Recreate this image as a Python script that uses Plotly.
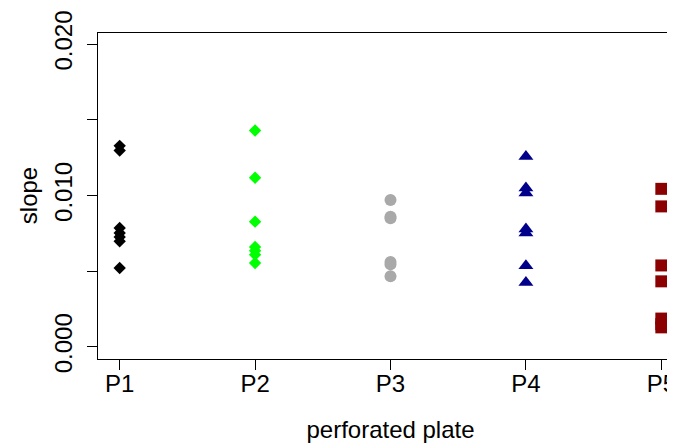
import plotly.graph_objects as go

categories = ["P1", "P2", "P3", "P4", "P5"]
p1 = [0.01328, 0.01297, 0.00785, 0.00752, 0.00726, 0.00697, 0.00521]
p2 = [0.01429, 0.01117, 0.00827, 0.00660, 0.00635, 0.00609, 0.00554]
p3 = [0.00970, 0.00860, 0.00850, 0.00560, 0.00545, 0.00466]
p4 = [0.01257, 0.01049, 0.01016, 0.00778, 0.00752, 0.00536, 0.00426]
p5 = [0.01044, 0.00928, 0.00538, 0.00433, 0.00187, 0.00150, 0.00129]
y_tickvals = [0.000, 0.005, 0.010, 0.015, 0.020]
y_ticktext = ["0.000", "", "0.010", "", "0.020"]

series = [p1, p2, p3, p4, p5]
colors = ["#000000", "#00FF00", "#A9A9A9", "#00008B", "#8B0000"]
symbols = ["diamond", "diamond", "circle", "triangle-up", "square"]
sizes = [9.5, 9.5, 12, 13, 12]

FONT = "Liberation Sans, Arial, Helvetica, sans-serif"

fig = go.Figure()
for i, vals in enumerate(series):
    fig.add_trace(go.Scatter(
        x=[i + 1] * len(vals), y=vals, mode="markers",
        marker=dict(symbol=symbols[i], color=colors[i], size=sizes[i], line=dict(width=0)),
        showlegend=False, cliponaxis=False,
    ))

PLOT_H = 448 - 24 - 97

# page has an 8px body margin: compensate so the plot box lands at page x=98, y=32
fig.update_layout(
    width=675, height=448,
    margin=dict(l=90, r=0, t=24, b=97, pad=0, autoexpand=False),
    paper_bgcolor="white", plot_bgcolor="white",
    font=dict(family=FONT, size=24, color="black"),
    xaxis=dict(
        range=[0.84, 5.16], tickvals=[1, 2, 3, 4, 5], ticktext=categories,
        automargin=False, anchor="y", side="bottom",
        showgrid=False, zeroline=False, showline=True, linecolor="black", linewidth=1.3,
        ticks="outside", ticklen=10, tickwidth=1.3, tickcolor="black",
        tickfont=dict(size=24), ticklabelstandoff=-7,
        title=dict(text="perforated plate", font=dict(size=24), standoff=25),
    ),
    yaxis=dict(
        range=[-0.0008, 0.0208], tickvals=y_tickvals, ticktext=y_ticktext,
        tickangle=-90, automargin=False,
        showgrid=False, zeroline=False, showline=True, linecolor="black", linewidth=1,
        ticks="outside", ticklen=10, tickwidth=1, tickcolor="black",
        tickfont=dict(size=24), ticklabelstandoff=5,
        title=dict(text="slope", font=dict(size=24), standoff=6),
    ),
    shapes=[
        dict(type="line", xref="paper", yref="paper", x0=0, x1=1.05,
             y0=1 - 0.5 / PLOT_H, y1=1 - 0.5 / PLOT_H,
             line=dict(color="black", width=1)),
    ],
)

fig.write_html("out.html")
